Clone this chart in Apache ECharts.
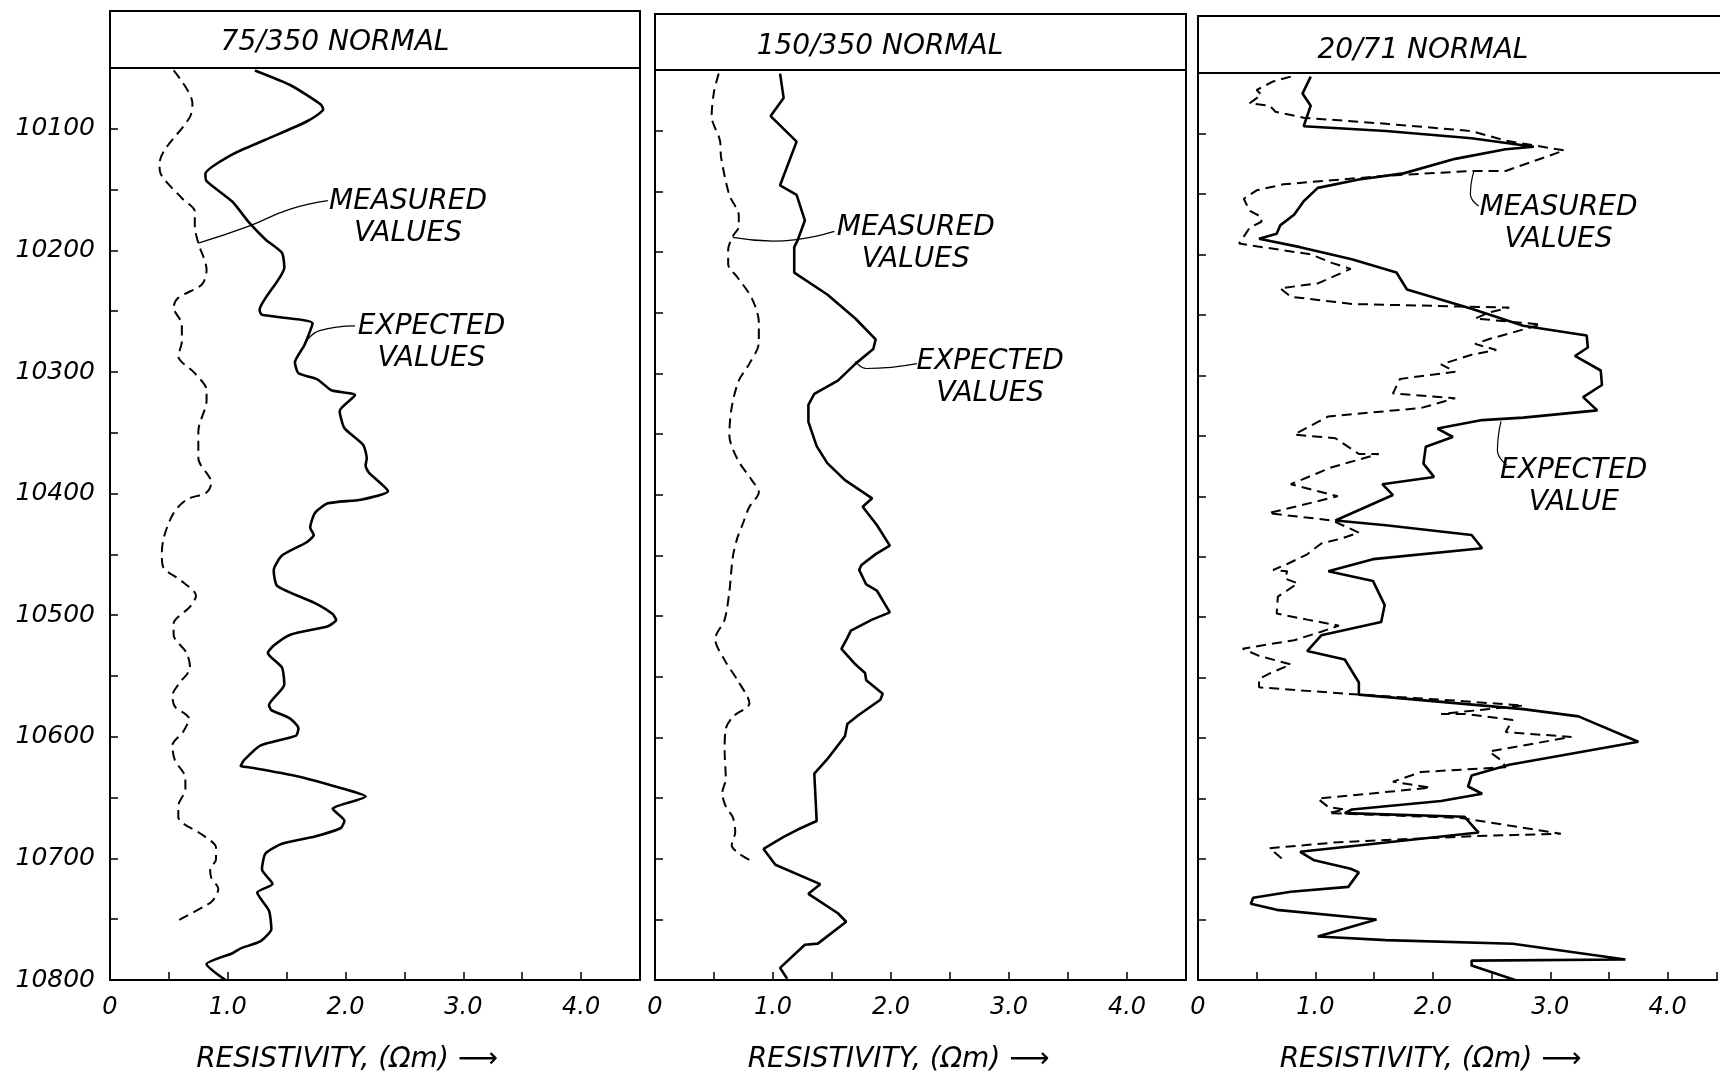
<!DOCTYPE html>
<html>
<head>
<meta charset="utf-8">
<script src="https://cdn.jsdelivr.net/npm/echarts@6/dist/echarts.min.js"></script>
<style>
    html, body { margin: 0; padding: 0; background: #fff; }
    #chart { width: 1720px; height: 1079px; }
</style>
</head>
<body>
<div id="chart"></div>
<script>
// depths in ft, resistivity in ohm-m
var depth75Meas = [10052, 10079, 10090, 10129, 10137, 10157, 10168, 10180, 10194, 10216, 10228, 10239, 10247, 10261, 10275, 10287, 10301, 10315, 10323, 10349, 10371, 10391, 10399, 10405, 10416, 10435, 10449, 10460, 10472, 10484, 10493, 10507, 10516, 10531, 10543, 10557, 10566, 10575, 10585, 10596, 10607, 10619, 10634, 10643, 10657, 10666, 10681, 10691, 10701, 10709, 10716, 10725, 10735, 10740, 10751];
var res75Meas = [0.54, 0.70, 0.68, 0.42, 0.43, 0.61, 0.72, 0.72, 0.75, 0.82, 0.78, 0.58, 0.54, 0.61, 0.61, 0.58, 0.72, 0.82, 0.82, 0.75, 0.75, 0.86, 0.82, 0.65, 0.54, 0.46, 0.44, 0.45, 0.61, 0.73, 0.68, 0.54, 0.54, 0.65, 0.68, 0.58, 0.53, 0.55, 0.67, 0.62, 0.53, 0.55, 0.64, 0.64, 0.58, 0.58, 0.79, 0.90, 0.90, 0.85, 0.86, 0.92, 0.87, 0.79, 0.58];

var depth75Exp = [10052, 10064, 10080, 10084, 10094, 10109, 10121, 10137, 10143, 10160, 10177, 10191, 10202, 10214, 10249, 10253, 10260, 10278, 10292, 10301, 10306, 10315, 10319, 10332, 10346, 10360, 10371, 10377, 10383, 10398, 10405, 10408, 10416, 10428, 10434, 10440, 10451, 10463, 10476, 10490, 10499, 10504, 10509, 10516, 10525, 10531, 10543, 10557, 10574, 10578, 10585, 10593, 10599, 10607, 10619, 10624, 10625, 10632, 10643, 10649, 10656, 10659, 10669, 10675, 10682, 10688, 10696, 10709, 10721, 10728, 10743, 10758, 10768, 10774, 10778, 10787, 10800];
var res75Exp = [1.23, 1.53, 1.79, 1.81, 1.67, 1.32, 1.04, 0.81, 0.82, 1.04, 1.18, 1.32, 1.46, 1.48, 1.27, 1.29, 1.72, 1.65, 1.57, 1.60, 1.76, 1.88, 2.08, 1.95, 1.99, 2.15, 2.18, 2.17, 2.20, 2.36, 2.13, 1.85, 1.74, 1.70, 1.73, 1.67, 1.46, 1.39, 1.42, 1.74, 1.89, 1.92, 1.85, 1.53, 1.39, 1.34, 1.46, 1.48, 1.35, 1.37, 1.53, 1.60, 1.58, 1.28, 1.14, 1.11, 1.18, 1.57, 1.99, 2.17, 1.96, 1.89, 1.99, 1.96, 1.74, 1.46, 1.32, 1.29, 1.38, 1.25, 1.35, 1.37, 1.28, 1.11, 1.04, 0.82, 0.98];

var depth150Meas = [10053, 10068, 10088, 10108, 10122, 10153, 10170, 10179, 10187, 10198, 10210, 10221, 10238, 10258, 10275, 10292, 10306, 10328, 10351, 10371, 10388, 10398, 10410, 10425, 10435, 10451, 10480, 10503, 10519, 10538, 10553, 10572, 10583, 10593, 10611, 10634, 10646, 10657, 10666, 10678, 10689, 10695, 10701];
var res150Meas = [0.54, 0.50, 0.48, 0.55, 0.56, 0.63, 0.71, 0.71, 0.66, 0.62, 0.62, 0.70, 0.82, 0.88, 0.88, 0.80, 0.71, 0.65, 0.63, 0.70, 0.82, 0.88, 0.80, 0.74, 0.70, 0.66, 0.63, 0.59, 0.51, 0.60, 0.70, 0.80, 0.66, 0.60, 0.59, 0.60, 0.57, 0.60, 0.66, 0.68, 0.65, 0.70, 0.80];

var depth150Exp = [10053, 10073, 10088, 10109, 10145, 10153, 10174, 10190, 10196, 10217, 10235, 10255, 10272, 10280, 10292, 10306, 10317, 10326, 10340, 10360, 10374, 10388, 10403, 10410, 10425, 10442, 10449, 10458, 10462, 10474, 10479, 10497, 10503, 10512, 10518, 10527, 10540, 10547, 10553, 10564, 10569, 10582, 10589, 10599, 10618, 10630, 10669, 10676, 10682, 10692, 10705, 10721, 10729, 10745, 10752, 10770, 10771, 10790, 10799];
var res150Exp = [1.06, 1.09, 0.98, 1.20, 1.06, 1.20, 1.27, 1.21, 1.18, 1.18, 1.46, 1.70, 1.87, 1.85, 1.70, 1.55, 1.35, 1.30, 1.30, 1.37, 1.46, 1.61, 1.84, 1.76, 1.88, 1.99, 1.87, 1.75, 1.73, 1.79, 1.88, 1.99, 1.84, 1.66, 1.63, 1.58, 1.70, 1.78, 1.79, 1.93, 1.91, 1.72, 1.63, 1.61, 1.46, 1.35, 1.37, 1.21, 1.09, 0.92, 1.02, 1.40, 1.30, 1.55, 1.62, 1.38, 1.27, 1.06, 1.12];

var depth20Meas = [10053, 10057, 10064, 10068, 10075, 10077, 10082, 10087, 10092, 10098, 10106, 10114, 10131, 10131, 10135, 10142, 10147, 10154, 10164, 10169, 10173, 10178, 10191, 10194, 10200, 10207, 10212, 10224, 10228, 10235, 10241, 10243, 10244, 10248, 10253, 10258, 10270, 10274, 10279, 10283, 10291, 10297, 10303, 10315, 10319, 10327, 10334, 10349, 10352, 10365, 10365, 10376, 10390, 10400, 10414, 10420, 10430, 10435, 10439, 10448, 10456, 10461, 10462, 10468, 10472, 10483, 10497, 10502, 10507, 10512, 10519, 10526, 10532, 10539, 10547, 10551, 10558, 10564, 10569, 10573, 10576, 10580, 10580, 10585, 10595, 10599, 10611, 10619, 10624, 10628, 10636, 10641, 10650, 10657, 10659, 10662, 10666, 10679, 10681, 10686, 10691, 10701];
var res20Meas = [0.79, 0.64, 0.50, 0.54, 0.44, 0.61, 0.66, 0.90, 1.60, 2.33, 2.62, 3.12, 2.62, 2.33, 1.60, 0.73, 0.50, 0.39, 0.44, 0.54, 0.54, 0.44, 0.35, 0.55, 0.96, 1.14, 1.30, 1.02, 0.70, 0.79, 1.31, 2.19, 2.65, 2.48, 2.36, 2.92, 2.48, 2.36, 2.54, 2.33, 2.07, 2.19, 1.72, 1.66, 2.19, 1.90, 1.11, 0.82, 1.17, 1.37, 1.54, 1.14, 0.79, 1.19, 0.60, 1.14, 1.37, 1.22, 1.05, 0.93, 0.76, 0.64, 0.76, 0.74, 0.85, 0.68, 0.67, 0.93, 1.20, 1.05, 0.82, 0.38, 0.52, 0.79, 0.60, 0.52, 0.52, 1.37, 2.19, 2.77, 2.48, 2.07, 2.27, 2.68, 2.62, 3.18, 2.48, 2.59, 2.62, 1.90, 1.66, 1.98, 1.02, 1.11, 1.25, 1.11, 2.24, 3.09, 2.36, 1.20, 0.61, 0.73];

var depth20Exp = [10053, 10067, 10077, 10094, 10098, 10104, 10111, 10113, 10121, 10133, 10138, 10145, 10156, 10167, 10176, 10183, 10187, 10194, 10204, 10215, 10229, 10245, 10259, 10267, 10277, 10284, 10296, 10308, 10318, 10329, 10335, 10337, 10344, 10351, 10359, 10373, 10384, 10390, 10399, 10420, 10424, 10432, 10443, 10452, 10462, 10470, 10490, 10504, 10515, 10528, 10535, 10554, 10564, 10576, 10582, 10603, 10622, 10631, 10640, 10646, 10652, 10659, 10662, 10665, 10675, 10678, 10694, 10701, 10708, 10711, 10723, 10727, 10732, 10737, 10742, 10750, 10764, 10767, 10770, 10783, 10784, 10788, 10800];
var res20Exp = [0.96, 0.89, 0.96, 0.90, 1.60, 2.33, 2.86, 2.62, 2.19, 1.75, 1.37, 1.02, 0.90, 0.82, 0.70, 0.67, 0.52, 0.87, 1.31, 1.69, 1.78, 2.33, 2.77, 3.31, 3.32, 3.21, 3.43, 3.44, 3.28, 3.40, 2.77, 2.42, 2.04, 2.17, 1.94, 1.92, 2.01, 1.57, 1.66, 1.17, 1.60, 2.33, 2.42, 1.49, 1.11, 1.49, 1.59, 1.56, 1.05, 0.93, 1.25, 1.37, 1.37, 2.77, 3.24, 3.75, 2.65, 2.33, 2.30, 2.42, 2.07, 1.31, 1.25, 2.27, 2.36, 2.39, 0.87, 0.99, 1.30, 1.37, 1.28, 0.79, 0.47, 0.45, 0.67, 1.52, 1.02, 1.60, 2.68, 3.64, 2.33, 2.33, 2.70];

var panelTitles = ['75/350 NORMAL', '150/350 NORMAL', '20/71 NORMAL'];
var xTickLabels = ['0', '1.0', '2.0', '3.0', '4.0'];
var axisTitle = 'RESISTIVITY, (\u03A9m) \u27F6';

// callouts: text anchor and leader line, in data units (resistivity, depth)
var notes = [
    { panel: 0, text: 'MEASURED\nVALUES', at: [2.53, 10173], leader: [[0.75, 10194], [1.18, 10180], [1.53, 10166], [1.85, 10159]] },
    { panel: 0, text: 'EXPECTED\nVALUES', at: [2.73, 10276], leader: [[1.65, 10277], [1.78, 10266], [2.08, 10262]] },
    { panel: 1, text: 'MEASURED\nVALUES', at: [2.21, 10193], leader: [[0.66, 10188], [1.0, 10191], [1.18, 10190], [1.52, 10183]] },
    { panel: 1, text: 'EXPECTED\nVALUES', at: [2.84, 10304], leader: [[1.70, 10290], [1.79, 10296], [2.22, 10292]] },
    { panel: 2, text: 'MEASURED\nVALUES', at: [3.07, 10175], leader: [[2.35, 10131], [2.32, 10150], [2.39, 10160]] },
    { panel: 2, text: 'EXPECTED\nVALUE', at: [3.20, 10392], leader: [[2.58, 10338], [2.55, 10362], [2.63, 10374]] }
];

var FONT = "'DejaVu Sans', sans-serif";

// third track runs off the right edge of the page, so it has no right frame
var panels = [
    { left: 110, width: 530, top: 68, bottom: 99, headTop: 11, titleTop: 29, xMax: 4.5, frame: true, namePad: 56 },
    { left: 655, width: 531, top: 70, bottom: 95, headTop: 14, titleTop: 33, xMax: 4.5, frame: true, namePad: 44 },
    { left: 1198, width: 522, top: 73, bottom: 93, headTop: 16, titleTop: 37, xMax: 4.42, frame: false, namePad: 54 }
];

function pairs(depths, values) {
    var out = [];
    for (var i = 0; i < depths.length; i++) {
        out.push([values[i], depths[i]]);
    }
    return out;
}

var curves = [
    { panel: 0, dashed: true, data: pairs(depth75Meas, res75Meas), smooth: 0.3 },
    { panel: 0, dashed: false, data: pairs(depth75Exp, res75Exp), smooth: 0.2 },
    { panel: 1, dashed: true, data: pairs(depth150Meas, res150Meas), smooth: 0.3 },
    { panel: 1, dashed: false, data: pairs(depth150Exp, res150Exp), smooth: 0 },
    { panel: 2, dashed: true, data: pairs(depth20Meas, res20Meas), smooth: 0 },
    { panel: 2, dashed: false, data: pairs(depth20Exp, res20Exp), smooth: 0 }
];

var chart = echarts.init(document.getElementById('chart'));

var grids = [], xAxes = [], yAxes = [], titles = [], graphics = [], series = [];

panels.forEach(function (p, i) {
    grids.push({
        left: p.left, top: p.top, width: p.width, bottom: p.bottom,
        show: p.frame, borderColor: '#000', borderWidth: 2, backgroundColor: 'transparent'
    });
    xAxes.push({
        type: 'value', gridIndex: i, min: 0, max: p.xMax, interval: 0.5,
        name: axisTitle, nameLocation: 'middle', nameGap: 66,
        nameTextStyle: {
            fontFamily: FONT, fontStyle: 'italic', fontSize: 28, color: '#000',
            padding: [0, p.namePad, 0, 0]
        },
        axisLine: { show: true, lineStyle: { color: '#000', width: 2 } },
        axisTick: { show: true, inside: true, length: 8, lineStyle: { color: '#000', width: 1.5 } },
        splitLine: { show: false },
        axisLabel: {
            margin: 16, fontFamily: FONT, fontStyle: 'italic', fontSize: 24, color: '#000',
            formatter: function (v) {
                var k = Math.round(v * 2);
                if (Math.abs(v * 2 - k) > 1e-6 || k % 2 !== 0) return '';
                return xTickLabels[k / 2] || '';
            }
        }
    });
    yAxes.push({
        type: 'value', gridIndex: i, inverse: true, min: 10050, max: 10800, interval: 50,
        axisLine: { show: true, lineStyle: { color: '#000', width: 2 } },
        axisTick: { show: true, inside: true, length: 8, lineStyle: { color: '#000', width: 1.5 } },
        splitLine: { show: false },
        axisLabel: {
            show: i === 0, margin: 15, fontFamily: FONT, fontStyle: 'italic', fontSize: 25, color: '#000',
            formatter: function (v) { return v % 100 === 0 ? String(v) : ''; }
        }
    });
    titles.push({
        text: panelTitles[i],
        left: p.left + 225,
        top: p.titleTop,
        textAlign: 'center',
        padding: 0,
        textStyle: { fontFamily: FONT, fontStyle: 'italic', fontWeight: 'normal', fontSize: 28, color: '#000' }
    });
    graphics.push({
        type: 'rect',
        shape: { x: p.left, y: p.headTop, width: p.frame ? p.width : p.width + 20, height: p.top - p.headTop },
        style: { fill: 'none', stroke: '#000', lineWidth: 2 }
    });
});

curves.forEach(function (c) {
    series.push({
        type: 'line',
        xAxisIndex: c.panel, yAxisIndex: c.panel,
        data: c.data,
        showSymbol: false,
        smooth: c.smooth,
        lineStyle: c.dashed
            ? { color: '#000', width: 2, type: [10, 6] }
            : { color: '#000', width: 2.6 },
        silent: true
    });
});

notes.forEach(function (n) {
    series.push({
        type: 'line',
        xAxisIndex: n.panel, yAxisIndex: n.panel,
        data: n.leader,
        showSymbol: false,
        smooth: 0.5,
        lineStyle: { color: '#000', width: 1.2 },
        silent: true
    });
    series.push({
        type: 'scatter',
        xAxisIndex: n.panel, yAxisIndex: n.panel,
        data: [[n.at[0], n.at[1]]],
        symbolSize: 0,
        itemStyle: { color: '#000', opacity: 1 },
        silent: true,
        label: {
            show: true, position: 'inside',
            formatter: n.text,
            fontFamily: FONT, fontStyle: 'italic', fontSize: 28, lineHeight: 32,
            color: '#000', opacity: 1, textBorderWidth: 0, align: 'center'
        }
    });
});

var option = {
    backgroundColor: '#fff',
    animation: false,
    title: titles,
    grid: grids,
    xAxis: xAxes,
    yAxis: yAxes,
    graphic: graphics,
    series: series
};

option && chart.setOption(option);
</script>
</body>
</html>
